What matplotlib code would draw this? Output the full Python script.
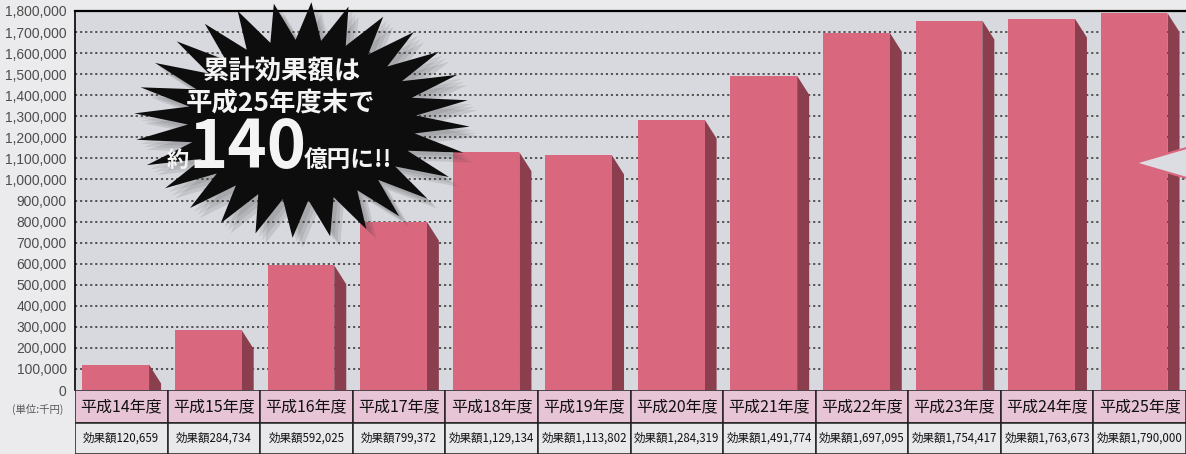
import numpy as np
import matplotlib
matplotlib.use("Agg")
import matplotlib.pyplot as plt
from matplotlib.patches import Polygon, Rectangle

# 年度と効果額(単位:千円)
nendo = ["平成14年度", "平成15年度", "平成16年度", "平成17年度", "平成18年度", "平成19年度",
         "平成20年度", "平成21年度", "平成22年度", "平成23年度", "平成24年度", "平成25年度"]
kouka = [120659, 284734, 592025, 799372, 1129134, 1113802,
         1284319, 1491774, 1697095, 1754417, 1763673, 1790000]
yticks = list(range(0, 1800001, 100000))

W, H = 1186, 454
JP = ["Noto Sans CJK JP", "DejaVu Sans"]
NARROW = ["Liberation Sans Narrow", "Liberation Sans", "DejaVu Sans"]

fig = plt.figure(figsize=(W / 100, H / 100), dpi=100)
fig.patch.set_facecolor("#ebebed")

# 棒グラフ本体
x0, x1, ytop, ybot = 75, 1186, 11, 390
ax = fig.add_axes([x0 / W, (H - ybot) / H, (x1 - x0) / W, (ybot - ytop) / H])
ax.set_facecolor("#d7d9de")
ax.set_xlim(0, len(nendo))
ax.set_ylim(0, 1800000)

for v in yticks[1:-1]:
    ax.plot([0, len(nendo)], [v, v], color="#4a4a4a", lw=1.3,
            linestyle=(0, (1.2, 1.6)), zorder=1)

xs = np.arange(len(nendo))
bw = 0.72
ax.bar(xs + 0.08, kouka, width=bw, align="edge", color="#d9687f", zorder=3)

# 立体の側面
d, dy = 0.13, 90000
for x, v in zip(xs, kouka):
    xr = x + 0.08 + bw
    side = Polygon([(xr, v), (xr + d, v - dy), (xr + d, 0), (xr, 0)],
                   closed=True, facecolor="#8a3e4e", edgecolor="none", zorder=2)
    ax.add_patch(side)

ax.set_yticks(yticks)
ax.set_yticklabels([f"{v:,}" for v in yticks], family=NARROW, fontsize=10, color="#4d4d4d")
ax.tick_params(axis="y", length=0, pad=6)
ax.set_xticks([])
ax.spines["right"].set_visible(False)
ax.spines["bottom"].set_visible(False)
ax.spines["top"].set_linewidth(1.6)
ax.spines["left"].set_linewidth(1.2)

# 下の表
tb = fig.add_axes([x0 / W, 0, (x1 - x0) / W, (H - ybot) / H])
tb.set_xlim(0, len(nendo))
tb.set_ylim(64, 0)
tb.axis("off")
for x, name, v in zip(xs, nendo, kouka):
    tb.add_patch(Rectangle((x, 0), 1, 33, facecolor="#e7c4d6", edgecolor="#222222", lw=1.1))
    tb.add_patch(Rectangle((x, 33), 1, 31, facecolor="#e9e9ec", edgecolor="#222222", lw=1.1))
    tb.text(x + 0.5, 16.5, name, ha="center", va="center", family=JP, fontsize=11.5, color="#111111")
    tb.text(x + 0.5, 48.5, f"効果額{v:,}", ha="center", va="center", family=JP,
            fontsize=8.3, color="#111111")

# 吹き出し・注記
ov = fig.add_axes([0, 0, 1, 1], zorder=10)
ov.set_xlim(0, W)
ov.set_ylim(H, 0)
ov.axis("off")
ov.patch.set_alpha(0)

ov.text(38, 409, "(単位:千円)", ha="center", va="center", family=JP, fontsize=7.5, color="#555555")

n = 28
ang = np.linspace(0, 2 * np.pi, 2 * n, endpoint=False) + np.pi / (2 * n)
rr = np.where(np.arange(2 * n) % 2 == 0, 1.0, 0.68)
cx, cy, rx, ry = 302, 120, 168, 118
pts = np.column_stack([cx + rx * rr * np.cos(ang), cy + ry * rr * np.sin(ang)])
for k, a in enumerate([0.10, 0.10, 0.12]):
    off = 4 + 3 * k
    ov.add_patch(Polygon(pts + [off, off], closed=True, facecolor="#333333",
                         edgecolor="none", alpha=a))
ov.add_patch(Polygon(pts, closed=True, facecolor="#0d0d0d", edgecolor="none"))

ov.text(282, 72, "累計効果額は", ha="center", va="center", family=JP, fontsize=19,
        weight="bold", color="#f4f4f4")
ov.text(281, 104, "平成25年度末で", ha="center", va="center", family=JP, fontsize=19,
        weight="bold", color="#f4f4f4")
ov.text(178, 167, "約", ha="center", va="baseline", family=JP, fontsize=16,
        weight="bold", color="#f4f4f4")
ov.text(248, 168, "140", ha="center", va="baseline", family=JP, fontsize=48,
        weight="bold", color="#f4f4f4")
ov.text(348, 167, "億円に!!", ha="center", va="baseline", family=JP, fontsize=17,
        weight="bold", color="#f4f4f4")

# 右端の矢印(切れている)
ov.add_patch(Polygon([(1135, 163), (1190, 147), (1190, 179)], closed=True,
                     facecolor="#dcdde2", edgecolor="#d9687f", lw=1.5))

fig.savefig("out.png", dpi=100, facecolor=fig.get_facecolor())
